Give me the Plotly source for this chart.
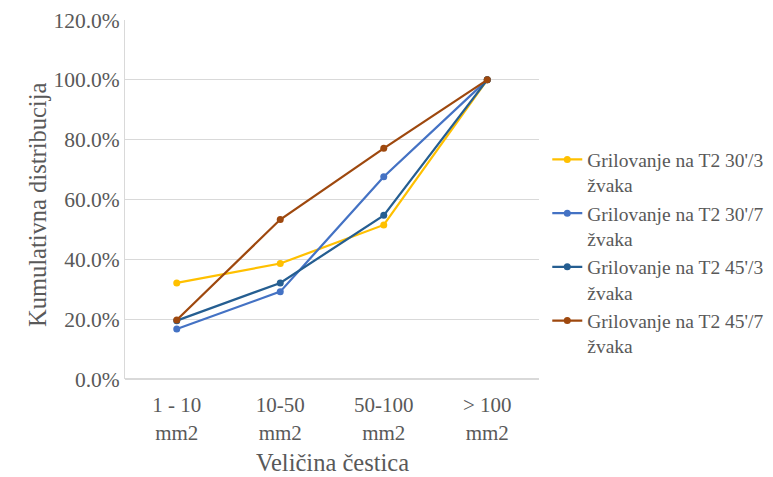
import plotly.graph_objects as go

categories = ["1 - 10<br>mm2", "10-50<br>mm2", "50-100<br>mm2", "> 100<br>mm2"]
series_names = ["Grilovanje na T2 30'/3<br>žvaka", "Grilovanje na T2 30'/7<br>žvaka",
                "Grilovanje na T2 45'/3<br>žvaka", "Grilovanje na T2 45'/7<br>žvaka"]
s_30_3 = [0.321, 0.386, 0.515, 1.0]
s_30_7 = [0.167, 0.292, 0.676, 1.0]
s_45_3 = [0.195, 0.321, 0.547, 1.0]
s_45_7 = [0.197, 0.533, 0.771, 1.0]
colors = ["#FFC000", "#4472C4", "#255E91", "#9E480E"]
y_ticks = [0, 0.2, 0.4, 0.6, 0.8, 1.0, 1.2]
x_title = "Veličina čestica"
y_title = "Kumulativna distribucija"

fig = go.Figure()
for name, vals, col in zip(series_names, [s_30_3, s_30_7, s_45_3, s_45_7], colors):
    fig.add_trace(go.Scatter(x=categories, y=vals, name=name, mode="lines+markers",
                             line=dict(color=col, width=2.25),
                             marker=dict(color=col, size=7)))

font_family = "Times New Roman"
txt = "#595959"
fig.update_layout(
    width=773, height=477,
    margin=dict(l=117, r=231, t=12, b=106),
    paper_bgcolor="white", plot_bgcolor="white",
    font=dict(family=font_family, color=txt, size=18),
    showlegend=True,
    legend=dict(x=1.02, xanchor="left", y=0.665, yanchor="top",
                font=dict(family=font_family, size=19.5, color=txt), valign="top",
                tracegroupgap=0, itemwidth=30),
    xaxis=dict(showgrid=False, showline=False, automargin=False,
               ticks="outside", ticklen=7, tickcolor="rgba(0,0,0,0)",
               range=[-0.5, 3.5],
               tickfont=dict(family=font_family, size=21, color=txt)),
    yaxis=dict(range=[0, 1.2], tickvals=y_ticks, tickformat=".1%", automargin=False,
               showgrid=True, gridcolor="#D9D9D9", gridwidth=1,
               showline=True, linecolor="#D9D9D9", zeroline=True, zerolinecolor="#D9D9D9",
               ticks="", tickfont=dict(family=font_family, size=21.5, color=txt)),
    annotations=[
        dict(text=x_title, xref="paper", yref="paper", x=0.5, y=-0.233,
             xanchor="center", yanchor="middle", showarrow=False,
             font=dict(family=font_family, size=24.5, color=txt)),
        dict(text=y_title, xref="paper", yref="paper", x=-0.21, y=0.485,
             xanchor="center", yanchor="middle", textangle=-90, showarrow=False,
             font=dict(family=font_family, size=24.5, color=txt)),
    ],
)
fig.write_html("out.html")
